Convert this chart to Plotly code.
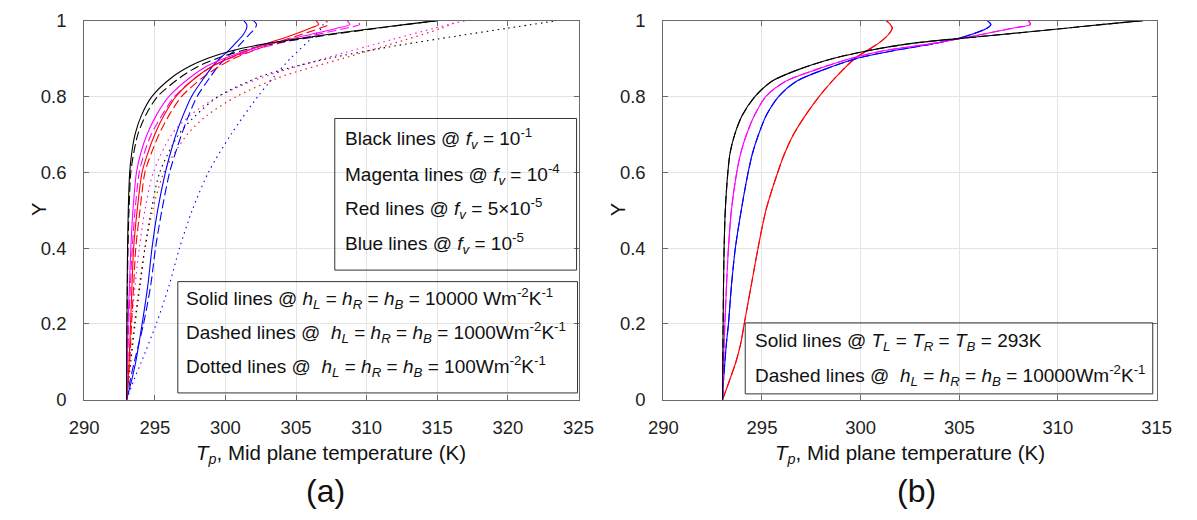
import plotly.graph_objects as go

# ---------------- Panel (a) data ----------------
YA = [0, 0.05, 0.1, 0.2, 0.3, 0.4, 0.5, 0.6, 0.65, 0.7, 0.75, 0.8, 0.85, 0.88, 0.9, 0.92, 0.94, 0.96, 0.98, 0.99, 1.0]

A_BLACK_SOLID = [293.0, 293.0, 293.0, 293.02, 293.04, 293.07, 293.12, 293.22, 293.36, 293.6, 294.05, 294.8, 296.2, 297.5, 298.7, 300.4, 303.0, 306.6, 310.6, 312.8, 315.0]
A_BLACK_DASH = [293.0, 293.0, 293.01, 293.03, 293.06, 293.1, 293.17, 293.3, 293.5, 293.8, 294.35, 295.2, 296.8, 298.1, 299.4, 301.1, 303.5, 306.9, 310.8, 312.9, 315.0]
A_MAGENTA_SOLID = [293.0, 293.03, 293.06, 293.1, 293.2, 293.3, 293.45, 293.7, 294.0, 294.45, 295.1, 296.0, 297.5, 298.7, 299.9, 301.4, 303.3, 305.6, 307.9, 308.8, 308.6]
A_MAGENTA_DASH = [293.0, 293.04, 293.08, 293.15, 293.27, 293.4, 293.6, 293.9, 294.25, 294.75, 295.5, 296.4, 297.9, 299.1, 300.3, 301.8, 303.8, 306.1, 308.5, 309.5, 309.3]
A_RED_SOLID = [293.0, 293.1, 293.18, 293.28, 293.38, 293.5, 293.75, 294.1, 294.5, 295.0, 295.65, 296.5, 297.9, 299.1, 300.2, 301.5, 303.0, 304.6, 306.0, 306.6, 306.4]
A_RED_DASH = [293.0, 293.12, 293.22, 293.35, 293.5, 293.65, 293.95, 294.3, 294.75, 295.3, 296.0, 296.9, 298.4, 299.6, 300.6, 301.9, 303.4, 305.1, 306.7, 307.3, 307.1]
A_BLUE_SOLID = [293.0, 293.35, 293.65, 294.1, 294.5, 294.8, 295.2, 295.75, 296.1, 296.5, 297.0, 297.6, 298.5, 299.1, 299.6, 300.2, 300.7, 301.2, 301.5, 301.5, 301.3]
A_BLUE_DASH = [293.0, 293.25, 293.55, 294.2, 294.7, 295.05, 295.5, 296.05, 296.45, 296.9, 297.4, 298.0, 298.9, 299.5, 300.0, 300.6, 301.1, 301.6, 302.1, 302.2, 302.0]

YA_DOT_BLACK = [0, 0.1, 0.2, 0.3, 0.4, 0.5, 0.6, 0.7, 0.75, 0.8, 0.85, 0.875, 0.9, 0.93, 0.96, 0.98, 1.0]
A_BLACK_DOT = [293.0, 293.3, 293.6, 293.95, 294.3, 294.75, 295.35, 296.7, 297.9, 299.5, 302.3, 304.5, 307.3, 311.5, 316.5, 320.0, 323.5]
YA_DOT = [0, 0.1, 0.2, 0.3, 0.4, 0.5, 0.6, 0.7, 0.75, 0.8, 0.85, 0.9, 0.95, 0.98, 1.0]
A_MAGENTA_DOT = [293.0, 293.15, 293.35, 293.6, 293.9, 294.3, 294.9, 296.2, 297.5, 299.5, 302.6, 307.0, 311.8, 314.8, 317.0]
A_RED_DOT = [293.0, 293.25, 293.55, 293.9, 294.3, 294.85, 295.65, 297.3, 298.7, 300.8, 303.8, 308.3, 312.8, 315.3, 316.5]
YA_DOT_BLUE = [0, 0.05, 0.1, 0.2, 0.3, 0.4, 0.5, 0.6, 0.7, 0.8, 0.85, 0.9, 0.95, 0.98, 1.0]
A_BLUE_DOT = [293.0, 293.5, 294.05, 295.1, 296.0, 296.75, 297.65, 298.8, 300.4, 302.3, 303.4, 304.6, 306.0, 306.8, 307.0]

# ---------------- Panel (b) data ----------------
YB = [0, 0.05, 0.1, 0.15, 0.2, 0.3, 0.4, 0.5, 0.6, 0.65, 0.7, 0.75, 0.8, 0.84, 0.87, 0.9, 0.92, 0.94, 0.96, 0.98, 0.99, 1.0]
B_BLACK = [293.0, 293.0, 293.01, 293.02, 293.03, 293.05, 293.08, 293.14, 293.27, 293.38, 293.62, 294.0, 294.65, 295.5, 296.8, 298.6, 300.3, 302.6, 306.5, 310.4, 312.3, 314.3]
B_MAGENTA = [293.0, 293.02, 293.05, 293.08, 293.12, 293.2, 293.3, 293.45, 293.72, 293.92, 294.22, 294.62, 295.2, 296.2, 297.7, 299.5, 301.1, 303.7, 305.8, 307.7, 308.6, 308.5]
B_BLUE = [293.0, 293.05, 293.12, 293.2, 293.3, 293.45, 293.65, 293.95, 294.3, 294.52, 294.83, 295.22, 295.85, 296.75, 298.1, 299.8, 301.6, 303.8, 305.4, 306.4, 306.6, 306.4]
B_RED = [293.0, 293.35, 293.68, 293.93, 294.1, 294.45, 294.8, 295.2, 295.8, 296.15, 296.6, 297.2, 297.9, 298.55, 299.1, 299.7, 300.3, 300.9, 301.35, 301.6, 301.5, 301.3]

XTICKS_A = [290, 295, 300, 305, 310, 315, 320, 325]
XTICKS_B = [290, 295, 300, 305, 310, 315]
YTICKS = [0, 0.2, 0.4, 0.6, 0.8, 1]

BLACK, MAGENTA, RED, BLUE = "#000000", "#ff00ff", "#ff0000", "#0000ff"
DASH = "9px,4px"
DOT = "1.5px,4px"
W, H = 1197, 520
FONT = "Arial, 'Liberation Sans', sans-serif"


def px(x):
    return x / W


def py(y):
    return 1 - y / H


fig = go.Figure()


def add(x, y, color, dash, xa="x", ya="y", width=1.1):
    fig.add_trace(go.Scatter(x=x, y=y, mode="lines", xaxis=xa, yaxis=ya,
                             line=dict(color=color, dash=dash, width=width, shape="spline", smoothing=0.8),
                             showlegend=False, hoverinfo="skip"))


# panel (a)
add(A_BLUE_DOT, YA_DOT_BLUE, BLUE, DOT)
add(A_RED_DOT, YA_DOT, RED, DOT)
add(A_MAGENTA_DOT, YA_DOT, MAGENTA, DOT)
add(A_BLACK_DOT, YA_DOT_BLACK, BLACK, DOT)
add(A_BLUE_DASH, YA, BLUE, DASH)
add(A_RED_DASH, YA, RED, DASH)
add(A_MAGENTA_DASH, YA, MAGENTA, DASH)
add(A_BLACK_DASH, YA, BLACK, DASH)
add(A_BLUE_SOLID, YA, BLUE, "solid")
add(A_RED_SOLID, YA, RED, "solid")
add(A_MAGENTA_SOLID, YA, MAGENTA, "solid")
add(A_BLACK_SOLID, YA, BLACK, "solid")

# panel (b)
for T, c in [(B_RED, RED), (B_BLUE, BLUE), (B_MAGENTA, MAGENTA), (B_BLACK, BLACK)]:
    add(T, YB, c, "solid", "x2", "y2")
    add(T, YB, c, DASH, "x2", "y2")

axis_common = dict(showgrid=True, gridcolor="#e4e4e4", gridwidth=1, showline=True, linecolor="#6a6a6a",
                   linewidth=1, mirror="ticks", ticks="inside", ticklen=5, tickcolor="#6a6a6a",
                   ticklabeloverflow="allow",
                   tickfont=dict(family=FONT, size=18.5, color="#222"), zeroline=False, fixedrange=True)

ydom = [py(405), py(10)]
fig.update_layout(
    width=W, height=H, margin=dict(l=0, r=0, t=0, b=0),
    paper_bgcolor="white", plot_bgcolor="white", showlegend=False,
    xaxis=dict(domain=[px(71), px(578)], anchor="y", range=[290, 325], tickvals=XTICKS_A,
               ticklabelstandoff=11, **axis_common),
    yaxis=dict(domain=ydom, anchor="x", range=[0, 1], tickvals=YTICKS, ticklabelstandoff=13, **axis_common),
    xaxis2=dict(domain=[px(665), px(1171)], anchor="y2", range=[290, 315], tickvals=XTICKS_B,
                ticklabelstandoff=11, **axis_common),
    yaxis2=dict(domain=ydom, anchor="x2", range=[0, 1], tickvals=YTICKS, ticklabelstandoff=13, **axis_common),
)

# legend boxes
for x0, y0, x1, y1 in [(328, 112, 576, 270), (167, 282, 577, 398), (749, 325, 1167, 399)]:
    fig.add_shape(type="rect", xref="paper", yref="paper", x0=px(x0), x1=px(x1), y0=py(y1), y1=py(y0),
                  line=dict(color="#333", width=1), fillcolor="rgba(0,0,0,0)", layer="above")

NB = "\u00a0"
fv = "<i>f</i><sub><i>v</i></sub>"
hh = "<i>h</i><sub><i>L</i></sub> = <i>h</i><sub><i>R</i></sub> = <i>h</i><sub><i>B</i></sub>"
tt = "<i>T</i><sub><i>L</i></sub> = <i>T</i><sub><i>R</i></sub> = <i>T</i><sub><i>B</i></sub>"
texts = [
    (336, 133, f"Black lines @ {fv} = 10<sup>-1</sup>"),
    (336, 170, f"Magenta lines @ {fv} = 10<sup>-4</sup>"),
    (336, 206, f"Red lines @ {fv} = 5×10<sup>-5</sup>"),
    (336, 242, f"Blue lines @ {fv} = 10<sup>-5</sup>"),
    (173, 300, f"Solid lines @ {hh} = 10000 Wm<sup>-2</sup>K<sup>-1</sup>"),
    (173, 335, f"Dashed lines @{NB} {hh} = 1000Wm<sup>-2</sup>K<sup>-1</sup>"),
    (173, 370, f"Dotted lines @{NB} {hh} = 100Wm<sup>-2</sup>K<sup>-1</sup>"),
    (757, 345, f"Solid lines @ {tt} = 293K"),
    (757, 380, f"Dashed lines @{NB} {hh} = 10000Wm<sup>-2</sup>K<sup>-1</sup>"),
]
for x, y, t in texts:
    fig.add_annotation(x=px(x), y=py(y), xref="paper", yref="paper", text=t, showarrow=False,
                       xanchor="left", yanchor="middle", font=dict(family=FONT, size=19, color="#111"))

xt = "<i>T</i><sub><i>p</i></sub>, Mid plane temperature (K)"
for x, y, t, s, ang in [(324, 462, xt, 20.5, 0), (918, 462, xt, 20.5, 0),
                        (24, 207, "Y", 20, -90), (618, 207, "Y", 20, -90),
                        (318, 500, "(a)", 32, 0), (925, 500, "(b)", 32, 0)]:
    fig.add_annotation(x=px(x), y=py(y), xref="paper", yref="paper", text=t, showarrow=False,
                       xanchor="center", yanchor="middle", textangle=ang,
                       font=dict(family=FONT, size=s, color="#111"))

fig.write_html("out.html")
